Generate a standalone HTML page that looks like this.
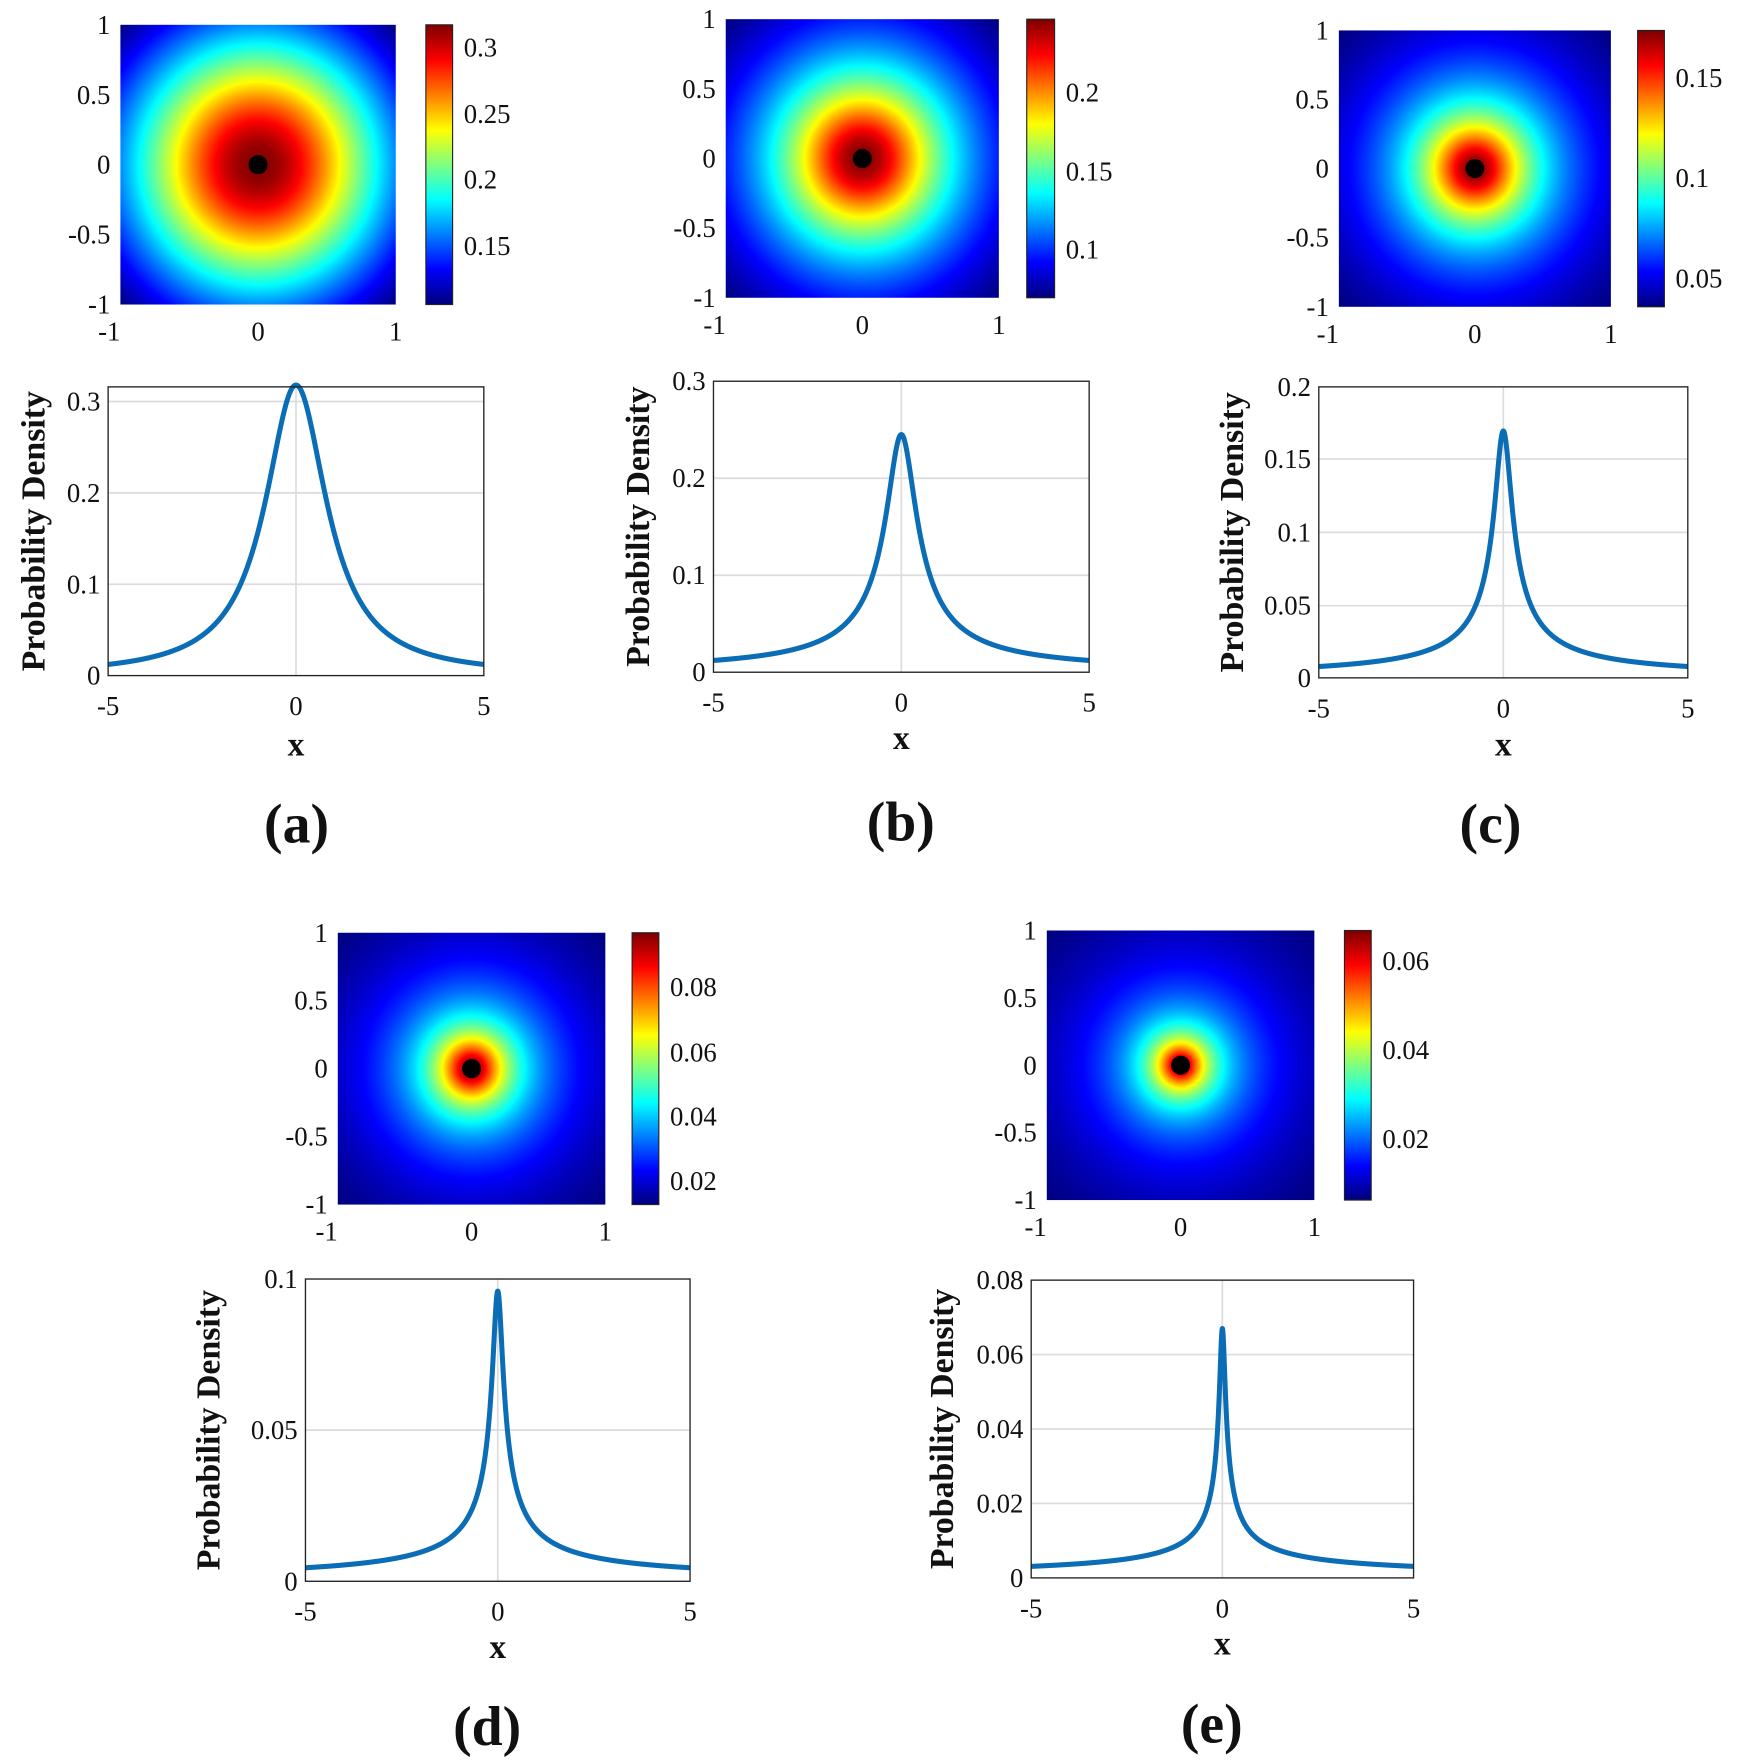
<!DOCTYPE html>
<html><head><meta charset="utf-8">
<style>
html,body{margin:0;padding:0;background:#fff;width:1748px;height:1764px;overflow:hidden}
#wrap{position:absolute;left:0;top:0;width:1568px;height:1564px;transform-origin:0 0;transform:scale(1.114796,1.127877)}
canvas{position:absolute}
svg{position:absolute;left:0;top:0}
text{font-family:"Liberation Serif",serif;fill:#111}
</style></head><body>
<div id="wrap"><svg id="s" width="1568" height="1564" viewBox="0 0 1568 1564"></svg></div>
<script>
const P=[
 {p:0.318,k:1,w:1,s:0.95,hm:[108,22,355,270],cb:[382,406],cbt:[[0.3,42],[0.25,101],[0.2,159],[0.15,218]],
  ax:[97,343,434,599],yt:[[0,599,'0'],[0.1,518,'0.1'],[0.2,437,'0.2'],[0.3,356,'0.3']],ylx:30,xly:670,lab:[266,730,'(a)']},
 {p:0.245,k:0.6,w:0.41,s:0.82,hm:[651,17,896,264],cb:[921,946],cbt:[[0.2,82],[0.15,152],[0.1,221]],
  ax:[640,338,977,596],yt:[[0,596,'0'],[0.1,510,'0.1'],[0.2,424,'0.2'],[0.3,338,'0.3']],ylx:572,xly:664,lab:[808,728,'(b)']},
 {p:0.171,k:0.5,w:0.23,s:0.78,hm:[1201,27,1445,272],cb:[1469,1493],cbt:[[0.15,69],[0.1,158],[0.05,247]],
  ax:[1183,343,1514,601],yt:[[0,601,'0'],[0.05,537,'0.05'],[0.1,472,'0.1'],[0.15,407,'0.15'],[0.2,343,'0.2']],ylx:1105,xly:670,lab:[1337,730,'(c)']},
 {p:0.096,k:0.42,w:0.13,s:0.7,hm:[303,827,543,1068],cb:[567,591],cbt:[[0.08,875],[0.06,933],[0.04,990],[0.02,1047]],
  ax:[274,1134,619,1402],yt:[[0,1402,'0'],[0.05,1268,'0.05'],[0.1,1134,'0.1']],ylx:187,xly:1470,lab:[437,1530,'(d)']},
 {p:0.067,k:0.36,w:0.07,s:0.55,hm:[939,825,1179,1064],cb:[1206,1230],cbt:[[0.06,852],[0.04,931],[0.02,1010]],
  ax:[925,1135,1268,1399],yt:[[0,1399,'0'],[0.02,1333,'0.02'],[0.04,1267,'0.04'],[0.06,1201,'0.06'],[0.08,1135,'0.08']],ylx:845,xly:1467,lab:[1087,1528,'(e)']}
];
const wrap=document.getElementById('wrap'),s=document.getElementById('s');
let h='';
function cl(v){return Math.max(0,Math.min(1,v))}
function jet(t){return [cl(1.5-Math.abs(4*t-3)),cl(1.5-Math.abs(4*t-2)),cl(1.5-Math.abs(4*t-1))].map(v=>Math.round(v*255))}
function T(x,y,t,sz,anc,extra){return `<text x="${x}" y="${y}" font-size="${sz}" text-anchor="${anc||'middle'}" ${extra||''}>${t}</text>`}
P.forEach(c=>{
 const f=x=>c.p/Math.pow(1+(x/c.w)*(x/c.w),c.k);
 const [x0,y0,x1,y1]=c.hm,W=x1-x0,H=y1-y0;
 const vmin=f(Math.SQRT2*c.s),vmax=c.p;
 const cv=document.createElement('canvas');cv.width=W;cv.height=H;cv.style.left=x0+'px';cv.style.top=y0+'px';
 const g=cv.getContext('2d'),im=g.createImageData(W,H);
 for(let j=0;j<H;j++)for(let i=0;i<W;i++){const X=(i+0.5)/W*2-1,Y=(j+0.5)/H*2-1;
  const t=(f(Math.hypot(X,Y)*c.s)-vmin)/(vmax-vmin);const col=jet(t);const o=(j*W+i)*4;
  im.data[o]=col[0];im.data[o+1]=col[1];im.data[o+2]=col[2];im.data[o+3]=255;}
 g.putImageData(im,0,0);wrap.insertBefore(cv,s);
 const cb=document.createElement('canvas');const cw=c.cb[1]-c.cb[0];cb.width=cw;cb.height=H;cb.style.left=c.cb[0]+'px';cb.style.top=y0+'px';
 const g2=cb.getContext('2d');for(let j=0;j<H;j++){const col=jet(1-j/(H-1));g2.fillStyle=`rgb(${col})`;g2.fillRect(0,j,cw,1);}
 wrap.insertBefore(cb,s);
 h+=`<rect x="${c.cb[0]}" y="${y0}" width="${cw}" height="${H}" fill="none" stroke="#222" stroke-width="1"/>`;
 const cx=(x0+x1)/2,cy=(y0+y1)/2;
 h+=`<circle cx="${cx}" cy="${cy}" r="8.5" fill="#000"/>`;
 h+=T(x0-10,y1+32,'-1',24)+T(cx,y1+32,'0',24)+T(x1,y1+32,'1',24);
 [['1',y0],['0.5',y0+H/4],['0',cy],['-0.5',y0+3*H/4],['-1',y1]].forEach(a=>h+=T(x0-9,a[1]+8,a[0],24,'end'));
 c.cbt.forEach(a=>h+=T(c.cb[1]+10,a[1]+8,a[0],24,'start'));
 const [ax0,ay0,ax1,ay1]=c.ax,aw=ax1-ax0;
 const y0v=c.yt[0][1],slope=(c.yt[1][1]-c.yt[0][1])/c.yt[1][0];
 const Yp=v=>y0v+slope*v,Xp=x=>ax0+(x+5)/10*aw;
 c.yt.forEach(a=>{if(a[1]>ay0+1&&a[1]<ay1-1)h+=`<line x1="${ax0}" x2="${ax1}" y1="${a[1]}" y2="${a[1]}" stroke="#dcdcdc" stroke-width="1.5"/>`;});
 h+=`<line x1="${Xp(0)}" x2="${Xp(0)}" y1="${ay0}" y2="${ay1}" stroke="#dcdcdc" stroke-width="1.5"/>`;
 let d='';for(let i=0;i<=2000;i++){const x=-5+i/200;d+=(i?'L':'M')+Xp(x).toFixed(2)+','+Yp(f(x)).toFixed(2);}
 h+=`<path d="${d}" fill="none" stroke="#0a6db5" stroke-width="4.5" stroke-linejoin="round"/>`;
 h+=`<rect x="${ax0}" y="${ay0}" width="${aw}" height="${ay1-ay0}" fill="none" stroke="#222" stroke-width="1.2"/>`;
 c.yt.forEach(a=>h+=T(ax0-7,a[1]+8,a[2],24,'end'));
 h+=T(ax0,ay1+35,'-5',24)+T(Xp(0),ay1+35,'0',24)+T(ax1,ay1+35,'5',24);
 const ym=(ay0+ay1)/2;
 h+=`<text x="${c.ylx}" y="${ym}" font-size="30" font-weight="bold" text-anchor="middle" transform="rotate(-90 ${c.ylx} ${ym})" dy="10">Probability Density</text>`;
 h+=`<text x="${Xp(0)}" y="${c.xly}" font-size="30" font-weight="bold" text-anchor="middle">x</text>`;
 h+=`<text x="${c.lab[0]}" y="${c.lab[1]+17}" font-size="50" font-weight="bold" text-anchor="middle">${c.lab[2]}</text>`;
});
s.innerHTML=h;
</script>
</body></html>
